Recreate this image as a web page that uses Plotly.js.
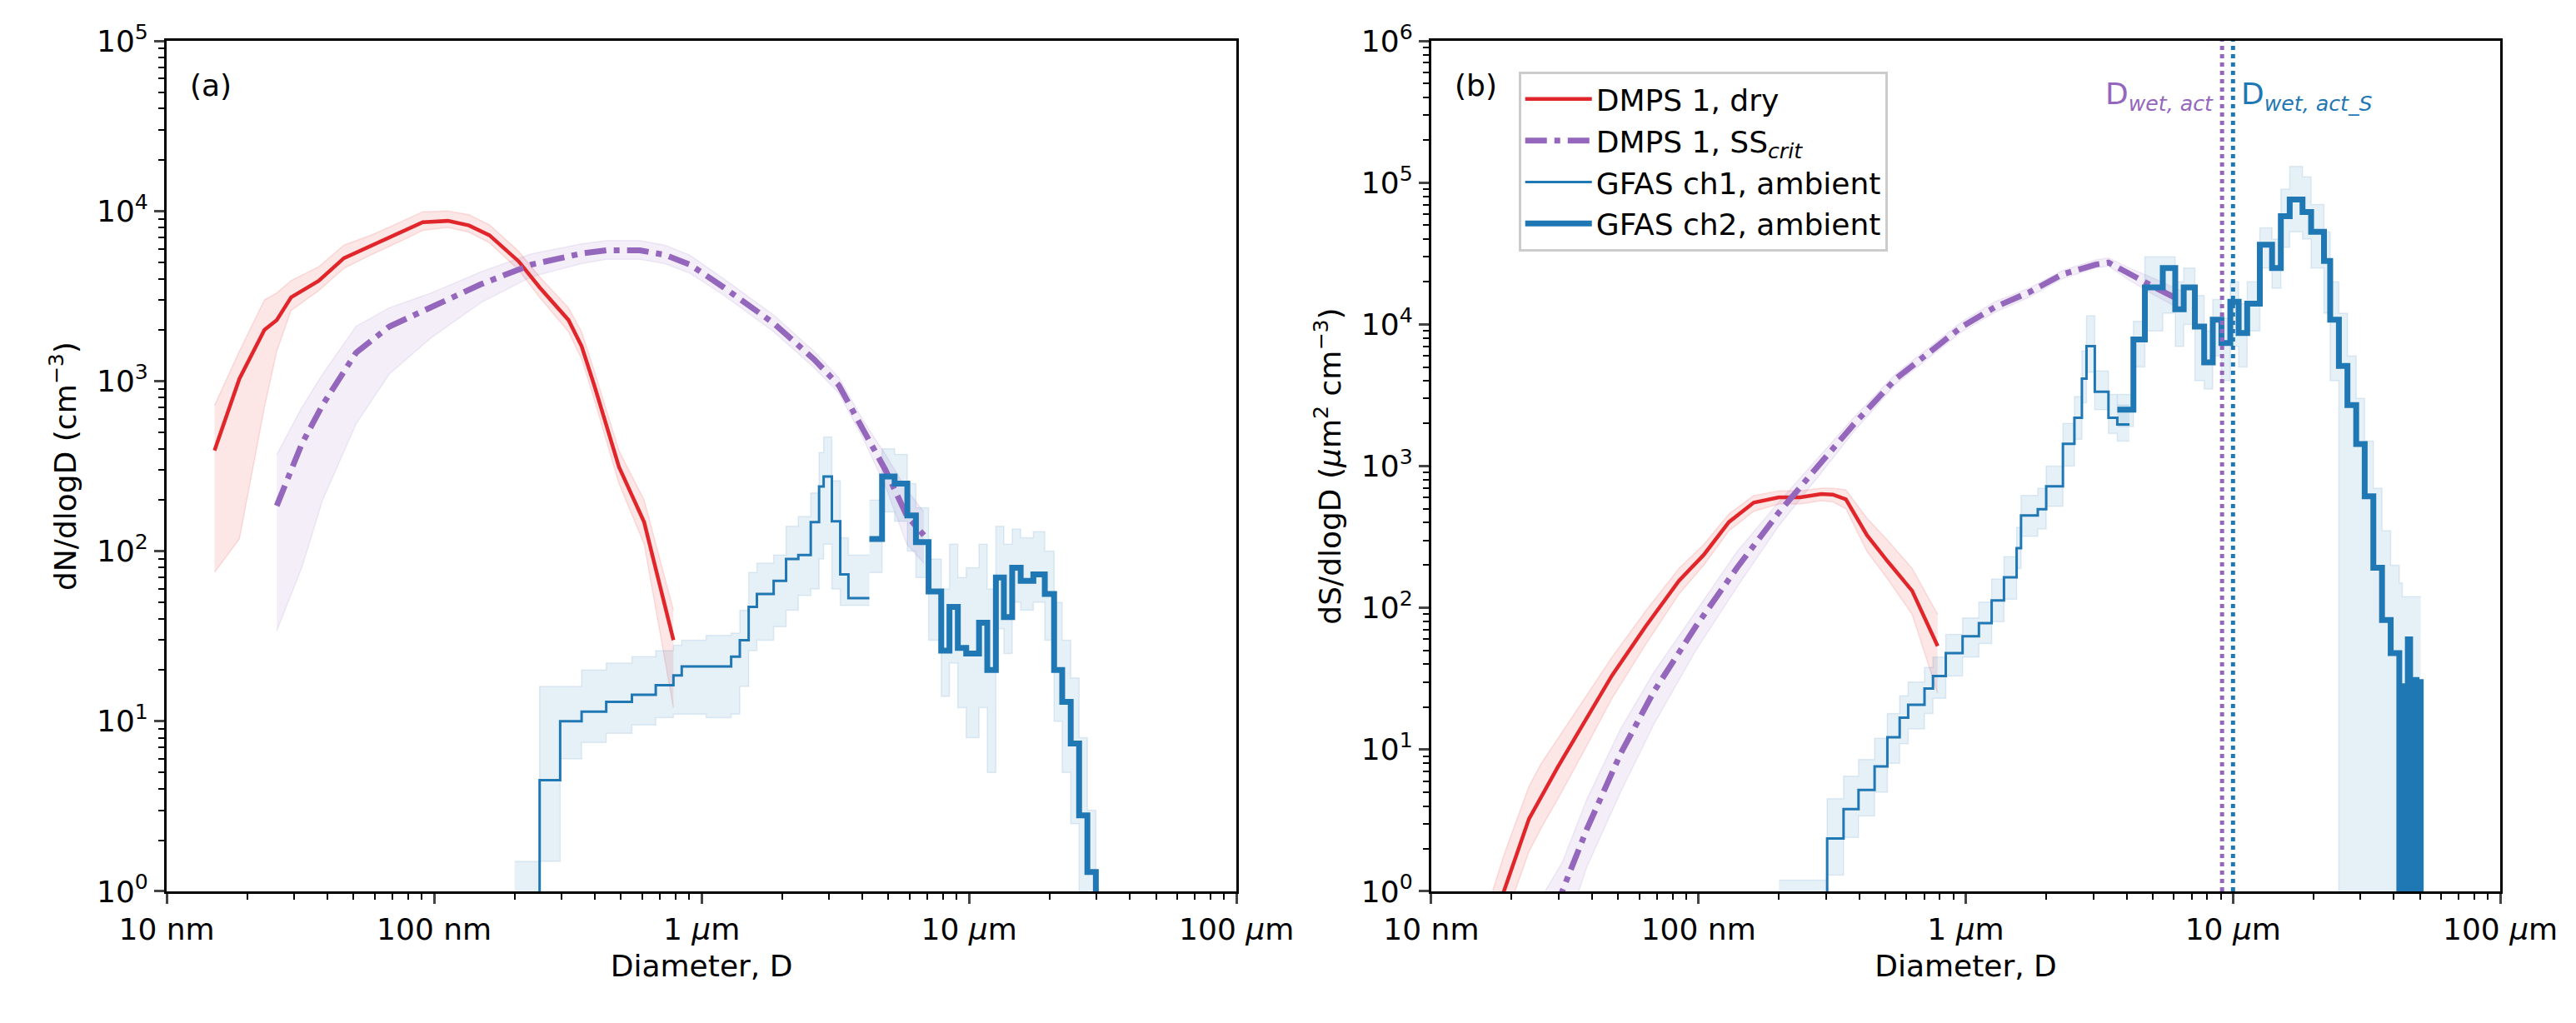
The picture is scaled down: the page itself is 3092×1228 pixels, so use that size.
<!DOCTYPE html>
<html><head><meta charset="utf-8">
<script src="https://cdn.plot.ly/plotly-3.0.1.min.js"></script>
<style>html,body{margin:0;padding:0;background:#fff}</style>
</head><body><div id="p" style="width:3092px;height:1228px"></div>
<script>
// ---------- Panel (a): number size distributions ----------
const aRedD = [0.0151,0.0187,0.0232,0.0258,0.0292,0.0370,0.0460,0.0592,0.0758,0.0907,0.1126,0.135,0.161,0.207,0.248,0.318,0.356,0.397,0.491,0.610,0.785];
const aRedN = [391,1032,2001,2286,3110,3880,5285,6310,7530,8590,8750,8220,7200,5060,3555,2286,1605,945,313,148,30];
const aRedLo = [75,118,700,1500,2600,3400,4600,5600,6700,7700,8000,7500,6500,4500,3100,1950,1350,780,250,110,12];
const aRedHi = [720,1500,3000,3300,3900,4700,6300,7300,8700,9900,10000,9500,8300,5800,4100,2700,1950,1150,390,200,45];

const aPurD = [0.0258,0.0320,0.0383,0.0511,0.0680,0.0977,0.150,0.231,0.355,0.441,0.588,0.729,0.905,1.21,1.86,2.63,3.26,4.04,4.87,5.85,6.78];
const aPurN = [185,427,725,1470,2093,2730,3715,4840,5625,5875,5875,5525,4840,3555,2188,1345,945,510,300,162,124];
const aPurLo = [34,80,200,560,1100,1800,2900,4100,4900,5200,5200,4900,4300,3200,1950,1200,850,450,240,110,85];
const aPurHi = [370,700,1100,2100,2700,3300,4400,5600,6400,6700,6700,6300,5500,4000,2450,1500,1050,580,370,230,170];

const aCh1D = [0.2,0.248,0.296,0.356,0.440,0.549,0.674,0.785,0.843,1.04,1.29,1.39,1.50,1.61,1.86,2.07,2.30,2.56,2.75,2.86,3.07,3.30,3.54,4.24];
const aCh1N = [0.5,4.5,10,11.4,13,14.3,16.3,18.6,21,21,24,30,47,56,67,90,95,148,240,275,150,73,53,53];
const aCh1Lo = [0.5,1.5,6,7.5,8.5,9.5,10.5,11,11,10.5,11,16,26,30,36,45,55,60,90,110,60,48,48,48];
const aCh1Hi = [1.5,16,16,20,22,24,26,28,30,32,33,45,75,85,95,140,160,220,380,470,260,120,95,95];

const aCh2D = [4.24,4.73,5.27,5.88,6.33,7.06,7.87,8.45,9.08,9.76,10.9,11.7,12.6,13.5,14.5,15.6,17.4,19.2,20.8,22.3,24.0,25.8,27.7,29.8];
const aCh2N = [118,275,250,162,113,58,26,47,27,25,38,20,70,41,80,67,73,56,20,13,7.4,2.8,1.3,0.5];
const aCh2Lo = [75,170,150,100,70,30,14,22,12,8,12,5,35,25,50,45,50,30,10,5,2.5,1,0.5,0.3];
const aCh2Hi = [200,400,370,250,180,90,60,110,70,80,110,60,140,110,135,120,130,100,50,30,18,8,3,1.2];

// ---------- Panel (b): surface size distributions ----------
const bRedD = [0.0151,0.0187,0.0232,0.0258,0.0298,0.0370,0.0475,0.0634,0.0845,0.1047,0.1300,0.161,0.200,0.240,0.288,0.318,0.356,0.427,0.510,0.630,0.785];
const bRedS = [0.28,1.0,3.24,4.7,7.57,15.1,33.4,73.9,155,237,403,553,602,602,635,630,583,326,213,132,53.8];
const bRedLo = [0.15,0.6,1.9,2.8,4.5,9.5,23,55,125,200,350,480,540,540,570,560,500,250,160,90,25];
const bRedHi = [0.5,1.8,5.5,8,12,22,45,95,190,280,460,620,670,670,700,700,680,430,300,190,90];

const bPurD = [0.0258,0.0309,0.0383,0.0511,0.0680,0.0977,0.1394,0.200,0.2857,0.381,0.548,0.729,0.970,1.29,1.72,2.30,3.06,3.42,4.09,5.10,6.5];
const bPurS = [0.39,1,2.77,9.35,25.6,73.9,192,472,1045,1970,4140,6325,9670,13280,16780,22550,26430,27300,22550,18250,14460];
const bPurLo = [0.12,0.45,1.5,5,15,50,140,380,880,1750,3800,5800,8900,12200,15500,21000,25000,25800,20500,16000,12500];
const bPurHi = [0.9,1.6,4.5,14,35,95,250,560,1200,2200,4500,6900,10500,14500,18000,24000,28500,29500,25000,21000,17000];

const bCh1D = [0.2,0.303,0.349,0.397,0.456,0.509,0.566,0.609,0.701,0.754,0.842,0.973,1.12,1.25,1.39,1.55,1.61,1.86,2.00,2.31,2.55,2.72,2.83,3.04,3.42,3.69,4.1];
const bCh1S = [0.5,2.36,3.8,5.2,7.6,12.2,16.8,20.7,27,33,48,63,78,113,164,264,448,497,721,1435,2190,4140,7030,3350,2190,1970,1970];
const bCh1Lo = [0.5,1.3,2.4,3.4,5,8,11,14,18,23,33,45,56,80,115,190,320,360,520,1000,1550,2800,4600,2500,1700,1500,1500];
const bCh1Hi = [1.2,4.5,6.5,8.5,12,18,24,30,38,45,65,85,110,160,230,370,620,700,1000,2000,3100,6500,11500,4700,3200,2700,2700];

const bCh2D = [3.69,4.24,4.68,5.46,6.08,6.54,7.2,7.8,8.4,9.05,9.77,10.5,11.3,12.6,14.0,15.1,16.3,18.2,19.6,21.9,23.1,24.9,26.8,28.9,31.1,33.5,36.1,38.9,41.9,43,44,45.1,46,47,48.6,49.5,50.4];
const bCh2S = [2500,7820,18250,25000,12800,18250,9670,5400,10800,7400,14460,8700,14000,36500,25000,58000,76000,62000,45000,28000,10800,5100,2700,1430,612,192,82,48,0.5,28,0.5,60,0.5,31,0.5,30,0.5];
const bCh2Lo = [1900,5000,9000,12000,7000,10000,4000,3500,6000,4000,7000,5000,9000,25000,18000,35000,45000,40000,25000,12000,4000,0.5,0.5,0.5,0.5,0.5,0.5,0.5,0.5,0.5,0.5,0.5,0.5,0.5,0.5,0.5,0.5];
const bCh2Hi = [3200,10500,30000,30000,20000,25000,16000,9000,15000,11000,20000,14000,20000,48000,40000,90000,130000,110000,70000,45000,20000,12000,6000,3000,1500,700,350,200,150,120,120,120,120,120,120,120,120];

const dWetAct = 9.1, dWetActS = 10.0;
const xTickVals = [0.01,0.1,1,10,100];
const xTickText = ['10 nm','100 nm','1 <i>μ</i>m','10 <i>μ</i>m','100 <i>μ</i>m'];
const seriesNames = ['DMPS 1, dry','DMPS 1, SS<sub><i>crit</i></sub>','GFAS ch1, ambient','GFAS ch2, ambient'];

const RED='#e0262a', PUR='#9467bd', BLU='#1f77b4';
const FONT='DejaVu Sans';
const traces=[];
function band(x,lo,hi,rgb,xa,ya,shape){
  traces.push({x:x,y:lo,xaxis:xa,yaxis:ya,mode:'lines',line:{width:1.5,color:'rgba('+rgb+',0.12)',shape:shape},showlegend:false,hoverinfo:'skip'});
  traces.push({x:x,y:hi,xaxis:xa,yaxis:ya,mode:'lines',fill:'tonexty',fillcolor:'rgba('+rgb+',0.11)',line:{width:1.5,color:'rgba('+rgb+',0.12)',shape:shape},showlegend:false,hoverinfo:'skip'});
}
function line(x,y,color,w,dash,shape,xa,ya,name,leg){
  traces.push({x:x,y:y,xaxis:xa,yaxis:ya,mode:'lines',name:name,showlegend:leg,line:{color:color,width:w,dash:dash,shape:shape}});
}
band(aRedD,aRedLo,aRedHi,'227,26,28','x','y','linear');
band(aPurD,aPurLo,aPurHi,'148,103,189','x','y','linear');
band(aCh1D,aCh1Lo,aCh1Hi,'31,119,180','x','y','hv');
band(aCh2D,aCh2Lo,aCh2Hi,'31,119,180','x','y','hv');
band(bRedD,bRedLo,bRedHi,'227,26,28','x2','y2','linear');
band(bPurD,bPurLo,bPurHi,'148,103,189','x2','y2','linear');
band(bCh1D,bCh1Lo,bCh1Hi,'31,119,180','x2','y2','hv');
band(bCh2D,bCh2Lo,bCh2Hi,'31,119,180','x2','y2','hv');
const DD='26px,9px,7px,9px';
line(aRedD,aRedN,RED,4.5,'solid','linear','x','y',seriesNames[0],false);
line(aPurD,aPurN,PUR,7,DD,'linear','x','y',seriesNames[1],false);
line(aCh1D,aCh1N,BLU,3,'solid','hv','x','y',seriesNames[2],false);
line(aCh2D,aCh2N,BLU,7,'solid','hv','x','y',seriesNames[3],false);
line(bRedD,bRedS,RED,4.5,'solid','linear','x2','y2',seriesNames[0],true);
line(bPurD,bPurS,PUR,7,DD,'linear','x2','y2',seriesNames[1],true);
line(bCh1D,bCh1S,BLU,3,'solid','hv','x2','y2',seriesNames[2],true);
line(bCh2D,bCh2S,BLU,7,'solid','hv','x2','y2',seriesNames[3],true);

function minorVals(e0,e1){const v=[];for(let e=e0;e<e1;e++)for(let k=2;k<=9;k++)v.push(k*Math.pow(10,e));return v;}
function powTicks(n){const v=[],t=[];for(let e=0;e<=n;e++){v.push(Math.pow(10,e));t.push('10<sup>'+e+'</sup>');}return {v:v,t:t};}
const tf={family:FONT,size:36,color:'#000'};
function xax(dom,anchor){return {type:'log',domain:dom,anchor:anchor,range:[-2,2],tickvals:xTickVals,ticktext:xTickText,
  ticks:'outside',ticklen:12,tickwidth:3,linewidth:3,linecolor:'#000',mirror:true,showline:true,showgrid:false,zeroline:false,
  tickfont:tf,title:{text:'Diameter, D',font:tf,standoff:12},
  minor:{tickvals:minorVals(-2,2),ticks:'outside',ticklen:7,tickwidth:2,tickcolor:'#000',showgrid:false}};}
function yax(dom,anchor,n,title){const p=powTicks(n);return {type:'log',domain:dom,anchor:anchor,range:[0,n],tickvals:p.v,ticktext:p.t,
  ticks:'outside',ticklen:12,tickwidth:3,linewidth:3,linecolor:'#000',mirror:true,showline:true,showgrid:false,zeroline:false,
  tickfont:tf,title:{text:title,font:tf,standoff:14},
  minor:{tickvals:minorVals(0,n),ticks:'outside',ticklen:7,tickwidth:2,tickcolor:'#000',showgrid:false}};}
const layout={
  width:3092,height:1228,paper_bgcolor:'#fff',plot_bgcolor:'#fff',font:{family:FONT,size:36,color:'#000'},
  margin:{l:0,r:0,t:0,b:0},showlegend:true,
  xaxis:xax([0.0647,0.480],'y'),
  yaxis:yax([0.1287,0.960],'x',5,'dN/dlogD (cm<sup>−3</sup>)'),
  xaxis2:xax([0.5556,0.9706],'y2'),
  yaxis2:yax([0.1287,0.960],'x2',6,'dS/dlogD (<i>μ</i>m<sup>2</sup> cm<sup>−3</sup>)'),
  legend:{x:0.5895,y:0.93,xanchor:'left',yanchor:'top',traceorder:'normal',bgcolor:'rgba(255,255,255,0.85)',bordercolor:'#ccc',borderwidth:3,
    font:{family:FONT,size:36},tracegroupgap:0,itemwidth:80},
  shapes:[
    {type:'line',xref:'x2',yref:'y2 domain',x0:dWetAct,x1:dWetAct,y0:0,y1:1,line:{color:PUR,width:5,dash:'dot'}},
    {type:'line',xref:'x2',yref:'y2 domain',x0:dWetActS,x1:dWetActS,y0:0,y1:1,line:{color:BLU,width:5,dash:'dot'}}
  ],
  annotations:[
    {text:'(a)',xref:'x domain',yref:'y domain',x:0.02,y:0.97,xanchor:'left',yanchor:'top',showarrow:false,font:tf},
    {text:'(b)',xref:'x2 domain',yref:'y2 domain',x:0.02,y:0.97,xanchor:'left',yanchor:'top',showarrow:false,font:tf},
    {text:'D<sub><i>wet, act</i></sub>',xref:'x2',yref:'y2 domain',x:Math.log10(dWetAct),y:0.96,xanchor:'right',yanchor:'top',xshift:-8,showarrow:false,font:{family:FONT,size:36,color:PUR}},
    {text:'D<sub><i>wet, act_S</i></sub>',xref:'x2',yref:'y2 domain',x:Math.log10(dWetActS),y:0.96,xanchor:'left',yanchor:'top',xshift:8,showarrow:false,font:{family:FONT,size:36,color:BLU}}
  ]
};
Plotly.newPlot('p',traces,layout,{staticPlot:true});
</script></body></html>
